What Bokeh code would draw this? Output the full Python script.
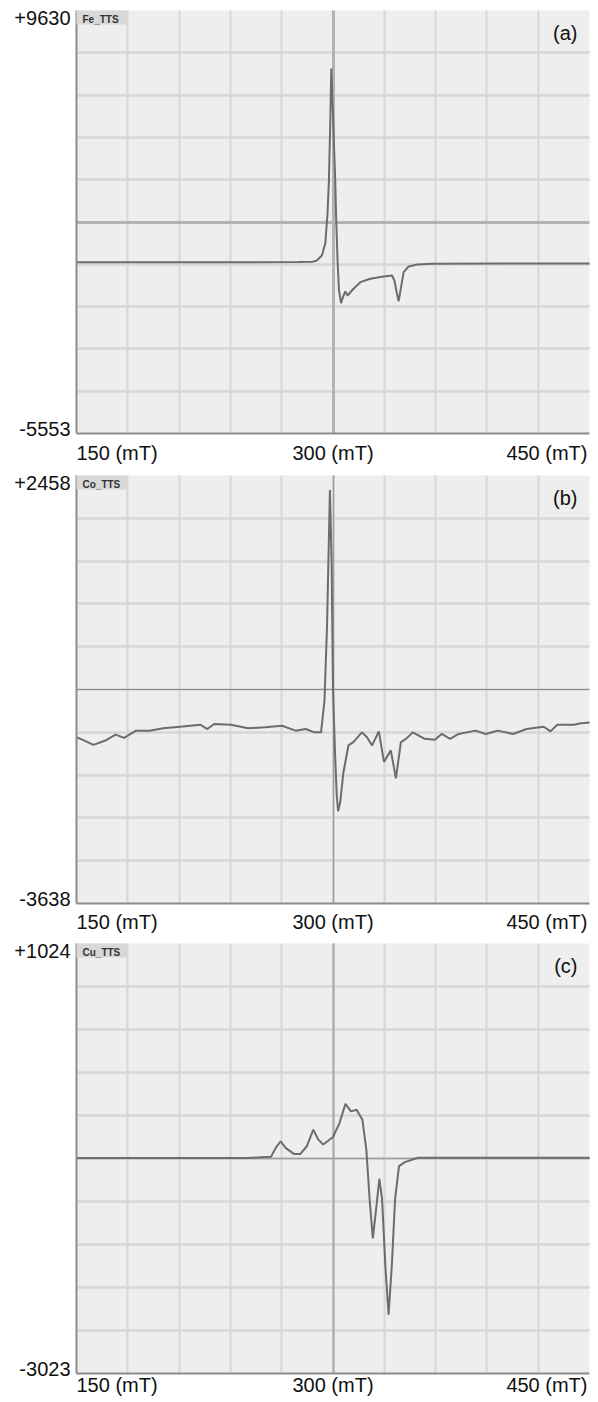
from bokeh.plotting import figure
from bokeh.layouts import column
from bokeh.models import (Range1d, FixedTicker, Label, BoxAnnotation, Grid, LinearAxis)
from bokeh.embed import file_html
from bokeh.resources import INLINE

# ---------------- data ----------------
x_tick_values = [150, 300, 450]
x_tick_labels = ["150 (mT)", "300 (mT)", "450 (mT)"]

fe_range = [-5553, 9630]
co_range = [-3638, 2458]
cu_range = [-3023, 1024]

fe_field = [150, 200, 250, 280, 288, 290.6, 293.5, 295.5, 296.8, 297.6, 298.4, 299.0,
            299.8, 300.6, 301.3, 301.9, 302.7, 303.5, 304.7, 305.8, 307.2, 308.5,
            312.0, 316.0, 321.8, 329.6, 334.5, 335.9, 337.4, 338.4, 339.8, 341.3,
            344.2, 349.2, 357.8, 400, 450]
fe_signal = [596, 596, 596, 600, 615, 657, 837, 1268, 2344, 3529, 5600, 7548,
             6200, 4800, 3529, 2068, 596, -420, -875, -660, -455, -600,
             -358, -121, 0, 83, 119, -60, -538, -803, -301, 238,
             442, 514, 539, 545, 550]

co_field = [150, 153, 159.9, 166.9, 172.8, 177.8, 184.8, 192.7, 200.7, 210.6, 222.5,
            226.5, 230.5, 240.4, 250.3, 260.3, 270.2, 278.1, 284.1, 289.1, 293.0,
            295.0, 296.5, 298.2, 299.2, 300.0, 301.2, 302.2, 303.0, 304.2, 306.0,
            309.0, 311.9, 316.9, 319.9, 322.8, 326.8, 329.8, 333.8, 336.8, 339.7,
            342.7, 346.7, 353.6, 359.6, 363.5, 368.5, 373.5, 383.4, 389.4, 396.3,
            405.3, 413.2, 423.2, 427.2, 431.1, 441.1, 444.0, 450]
co_signal = [-1270, -1300, -1378, -1317, -1232, -1279, -1176, -1176, -1143, -1120, -1092,
             -1153, -1082, -1092, -1143, -1129, -1106, -1176, -1153, -1200, -1200,
             -754, 300, 2250, 1200, -590, -1500, -2100, -2325, -2200, -1786,
             -1387, -1340, -1200, -1270, -1387, -1186, -1622, -1457, -1856, -1340,
             -1293, -1200, -1293, -1307, -1223, -1293, -1223, -1176, -1223, -1176,
             -1223, -1153, -1120, -1186, -1092, -1092, -1073, -1059]

cu_field = [150, 200, 250, 263.7, 266.5, 269.4, 272.3, 277.1, 280.9, 284.7, 288.5,
            291.4, 294.3, 300.0, 303.8, 307.3, 310.5, 313.8, 317.2, 319.5, 321.4,
            323.3, 325.2, 327.1, 328.7, 330.6, 332.5, 334.4, 336.3, 338.6, 342.0,
            349.7, 365, 400, 450]
cu_signal = [-995, -995, -995, -984, -900, -837, -900, -956, -956, -884, -728,
             -822, -868, -797, -666, -485, -556, -541, -634, -915, -1383,
             -1751, -1477, -1190, -1383, -2007, -2469, -2007, -1383, -1071, -1034,
             -993, -993, -993, -993]

# ---------------- layout / style (pixels) ----------------
W = 598
PLOT_L, PLOT_R = 76, 589
FONT = "Liberation Sans"

panels = [
    dict(name="Fe_TTS", tag="(a)", field=fe_field, signal=fe_signal, yr=fe_range,
         height=470, pad_top=10, pad_bot=37, lbl_off=-19,
         vline="#b3b3b3", vw=3, hline="#b3b3b3", hw=3),
    dict(name="Co_TTS", tag="(b)", field=co_field, signal=co_signal, yr=co_range,
         height=468, pad_top=5, pad_bot=35, lbl_off=-18,
         vline="#9c9c9c", vw=1.5, hline="#8a8a8a", hw=1.2),
    dict(name="Cu_TTS", tag="(c)", field=cu_field, signal=cu_signal, yr=cu_range,
         height=462, pad_top=5, pad_bot=27, lbl_off=-11,
         vline="#a8a8a8", vw=2, hline="#a0a0a0", hw=1.5),
]

figs = []
for pnl in panels:
    ymin, ymax = pnl["yr"]
    H = pnl["height"]
    kx = (x_tick_values[-1] - x_tick_values[0]) / float(PLOT_R - PLOT_L)
    xr = Range1d(x_tick_values[0] - PLOT_L * kx, x_tick_values[-1] + (W - PLOT_R) * kx)
    plot_h = H - pnl["pad_top"] - pnl["pad_bot"]
    ky = (ymax - ymin) / float(plot_h)
    yr = Range1d(ymin - pnl["pad_bot"] * ky, ymax + pnl["pad_top"] * ky)

    p = figure(width=W, height=H, output_backend="svg", toolbar_location=None,
               x_range=xr, y_range=yr, x_axis_type=None, y_axis_type=None,
               min_border=0)
    p.background_fill_color = "white"
    p.border_fill_color = "white"
    p.outline_line_color = None

    # grey plotting area
    p.add_layout(BoxAnnotation(left=150, right=450, bottom=ymin, top=ymax, level="image",
                               fill_color="#eeeeee", fill_alpha=1.0, line_color=None))

    # grid
    step_y = (ymax - ymin) / 10.0
    p.add_layout(Grid(dimension=0, ticker=FixedTicker(ticks=[150 + 30 * k for k in range(1, 10)]),
                      cross_bounds=(ymin, ymax), grid_line_color="#d6d6d6", grid_line_width=2))
    p.add_layout(Grid(dimension=1, ticker=FixedTicker(ticks=[ymin + step_y * k for k in range(1, 10)]),
                      cross_bounds=(150, 450), grid_line_color="#d6d6d6", grid_line_width=2.5))
    p.add_layout(Grid(dimension=0, ticker=FixedTicker(ticks=[300]),
                      cross_bounds=(ymin, ymax), grid_line_color=pnl["vline"], grid_line_width=pnl["vw"]))
    p.add_layout(Grid(dimension=1, ticker=FixedTicker(ticks=[(ymin + ymax) / 2.0]),
                      cross_bounds=(150, 450), grid_line_color=pnl["hline"], grid_line_width=pnl["hw"]))

    # axis lines
    yax = LinearAxis(fixed_location=150, bounds=(ymin, ymax), ticker=FixedTicker(ticks=[]),
                     axis_line_color="#8c8c8c", axis_line_width=2,
                     major_tick_line_color=None, minor_tick_line_color=None)
    xax = LinearAxis(fixed_location=ymin, bounds=(150, 450), ticker=FixedTicker(ticks=[]),
                     axis_line_color="#8c8c8c", axis_line_width=2,
                     major_tick_line_color=None, minor_tick_line_color=None)
    p.add_layout(yax, "left")
    p.add_layout(xax, "below")

    # spectrum
    p.line(pnl["field"], pnl["signal"], line_color="#6c6c6c", line_width=2)

    # sample tag box
    p.add_layout(BoxAnnotation(left=150, right=180, top=ymax, bottom=ymax - 14 * ky,
                               fill_color="#d8d8d8", fill_alpha=1.0, line_color=None))
    p.add_layout(Label(x=150, y=ymax, x_offset=6, y_offset=-3, text=pnl["name"],
                       text_font=FONT, text_font_style="bold", text_font_size="10px",
                       text_color="#333333", text_baseline="top", text_align="left"))
    p.add_layout(Label(x=450, y=ymax, x_offset=-12, y_offset=-11, text=pnl["tag"],
                       text_font=FONT, text_font_size="20px", text_color="#111111",
                       text_baseline="top", text_align="right"))
    # y extreme labels
    p.add_layout(Label(x=150, y=ymax, x_offset=-6, y_offset=0, text="%+d" % ymax,
                       text_font=FONT, text_font_size="20px", text_color="#111111",
                       text_baseline="top", text_align="right"))
    p.add_layout(Label(x=150, y=ymin, x_offset=-6, y_offset=5, text="%d" % ymin,
                       text_font=FONT, text_font_size="20px", text_color="#111111",
                       text_baseline="alphabetic", text_align="right"))
    # x labels
    aligns = ["left", "center", "right"]
    xoffs = [0, 0, -2]
    for v, t, a, xo in zip(x_tick_values, x_tick_labels, aligns, xoffs):
        p.add_layout(Label(x=v, y=ymin, x_offset=xo, y_offset=pnl["lbl_off"], text=t,
                           text_font=FONT, text_font_size="20px", text_color="#111111",
                           text_baseline="alphabetic", text_align=a))
    figs.append(p)

layout = column(*figs, spacing=0)
open("out.html", "w").write(file_html(layout, INLINE))
